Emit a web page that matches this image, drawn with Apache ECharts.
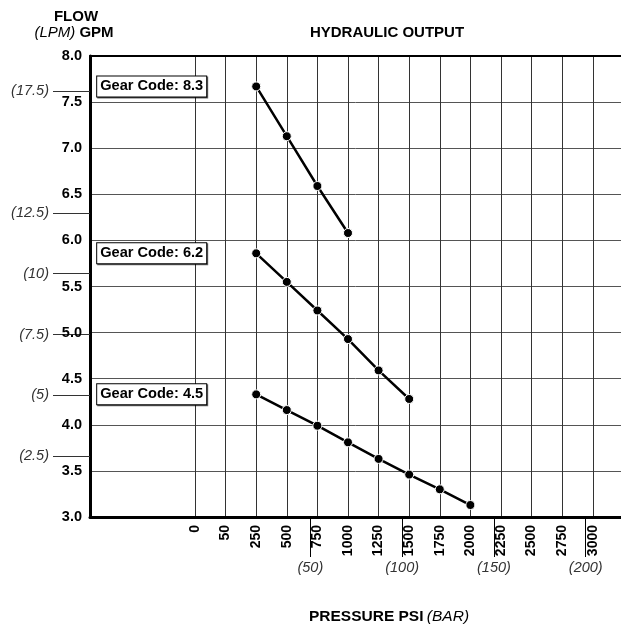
<!DOCTYPE html>
<html><head><meta charset="utf-8">
<script src="https://cdn.jsdelivr.net/npm/echarts@6/dist/echarts.min.js"></script>
<style>html,body{margin:0;padding:0;background:#fff}#c{width:621px;height:625px}</style>
</head><body><div id="c"></div>
<script>
// ---- data ----
const psiLabels = ['0','50','250','500','750','1000','1250','1500','1750','2000','2250','2500','2750','3000'];
const barTicks = [50, 100, 150, 200];
const lpmTicks = [2.5, 5, 7.5, 10, 12.5, 17.5];
const gearCodes = ['8.3', '6.2', '4.5'];
const gear83 = [7.67, 7.13, 6.59, 6.08];              // PSI 250..1000
const gear62 = [5.86, 5.55, 5.24, 4.93, 4.59, 4.28];  // PSI 250..1500
const gear45 = [4.33, 4.16, 3.99, 3.81, 3.63, 3.46, 3.30, 3.13]; // PSI 250..2000
const gearValues = [gear83, gear62, gear45];
const startLabel = '250';

const FONT = '"Liberation Sans", Arial, Helvetica, sans-serif';
const idxMin = -3.431, idxMax = 13.922;
const barMin = -70.0, barMax = 219.2;
const lpmMax = 18.95;
const psiIdx = psiLabels.map((_, i) => i);

const series = gearValues.map((vals, s) => {
  const start = psiLabels.indexOf(startLabel);
  return {
    type: 'line',
    name: 'Gear Code: ' + gearCodes[s],
    xAxisIndex: 0, yAxisIndex: 0,
    symbol: 'circle', symbolSize: 9,
    lineStyle: { color: '#000', width: 2.5 },
    itemStyle: { color: '#000', borderColor: '#fff', borderWidth: 1 },
    emphasis: { disabled: true },
    z: 5,
    data: vals.map((v, i) => {
      const item = { value: [start + i, v] };
      if (i === 0) {
        item.label = {
          show: true, position: 'left', distance: 45,
          formatter: 'Gear Code: ' + gearCodes[s],
          fontFamily: FONT, fontWeight: 'bold', fontSize: 14.6, color: '#000',
          backgroundColor: '#fff', borderColor: '#000', borderWidth: 1,
          padding: [3, 3, 2, 3],
          shadowColor: 'rgba(0,0,0,0.6)', shadowOffsetX: 1, shadowOffsetY: 1, shadowBlur: 0
        };
      }
      return item;
    })
  };
});

const chart = echarts.init(document.getElementById('c'), null, { renderer: 'canvas' });
chart.setOption({
  animation: false,
  backgroundColor: '#fff',
  grid: { left: 90, right: 0, top: 56, bottom: 108, containLabel: false },
  xAxis: [
    {
      type: 'value', position: 'bottom', min: idxMin, max: idxMax,
      axisLine: { show: true, onZero: false, lineStyle: { color: '#000', width: 3 } },
      axisTick: { show: false, customValues: psiIdx },
      splitLine: { show: true, customValues: psiIdx, lineStyle: { color: '#333', width: 1 } },
      axisLabel: {
        customValues: psiIdx, rotate: 90, margin: 8,
        formatter: v => psiLabels[Math.round(v)],
        fontFamily: FONT, fontWeight: 'bold', fontSize: 14, color: '#000'
      }
    },
    {
      type: 'value', position: 'bottom', min: barMin, max: barMax,
      axisLine: { show: false, onZero: false },
      axisTick: { show: true, customValues: barTicks, length: 40, inside: false, lineStyle: { color: '#000', width: 1 } },
      splitLine: { show: false },
      axisLabel: {
        customValues: barTicks, margin: 43,
        formatter: v => '(' + v + ')',
        fontFamily: FONT, fontStyle: 'italic', fontSize: 14.5, color: '#333'
      }
    },
    {
      type: 'value', position: 'top', min: idxMin, max: idxMax,
      axisLine: { show: true, onZero: false, lineStyle: { color: '#000', width: 2 } },
      axisTick: { show: false }, axisLabel: { show: false }, splitLine: { show: false }
    }
  ],
  yAxis: [
    {
      type: 'value', position: 'left', min: 3, max: 8, interval: 0.5,
      axisLine: { show: true, onZero: false, lineStyle: { color: '#000', width: 3 } },
      axisTick: { show: false },
      splitLine: { show: true, lineStyle: { color: '#555', width: 1 } },
      axisLabel: {
        margin: 8, formatter: v => v.toFixed(1),
        fontFamily: FONT, fontWeight: 'bold', fontSize: 14.5, color: '#000'
      }
    },
    {
      type: 'value', position: 'left', min: 0, max: lpmMax,
      axisLine: { show: false, onZero: false },
      axisTick: { show: true, customValues: lpmTicks, length: 37, inside: false, lineStyle: { color: '#333', width: 1 } },
      splitLine: { show: false },
      axisLabel: {
        customValues: lpmTicks, margin: 41,
        formatter: v => '(' + v + ')',
        fontFamily: FONT, fontStyle: 'italic', fontSize: 14.5, color: '#333'
      }
    }
  ],
  graphic: [
    { type: 'text', x: 76, y: 17, style: { text: 'FLOW', font: 'bold 15px ' + FONT, fill: '#000', textAlign: 'center', textVerticalAlign: 'middle' } },
    { type: 'text', x: 74, y: 33, style: {
        text: '{i|(LPM)}{b| GPM}',
        rich: {
          i: { fontFamily: FONT, fontStyle: 'italic', fontSize: 15, color: '#000' },
          b: { fontFamily: FONT, fontWeight: 'bold', fontSize: 15, color: '#000' }
        },
        textAlign: 'center', textVerticalAlign: 'middle' } },
    { type: 'text', x: 387, y: 33, style: { text: 'HYDRAULIC OUTPUT', font: 'bold 15px ' + FONT, fill: '#000', textAlign: 'center', textVerticalAlign: 'middle' } },
    { type: 'text', x: 389, y: 617, style: {
        text: '{b|PRESSURE PSI} {i|(BAR)}',
        rich: {
          i: { fontFamily: FONT, fontStyle: 'italic', fontSize: 15.5, color: '#000' },
          b: { fontFamily: FONT, fontWeight: 'bold', fontSize: 15.5, color: '#000' }
        },
        textAlign: 'center', textVerticalAlign: 'middle' } }
  ],
  series: series
});
</script></body></html>
